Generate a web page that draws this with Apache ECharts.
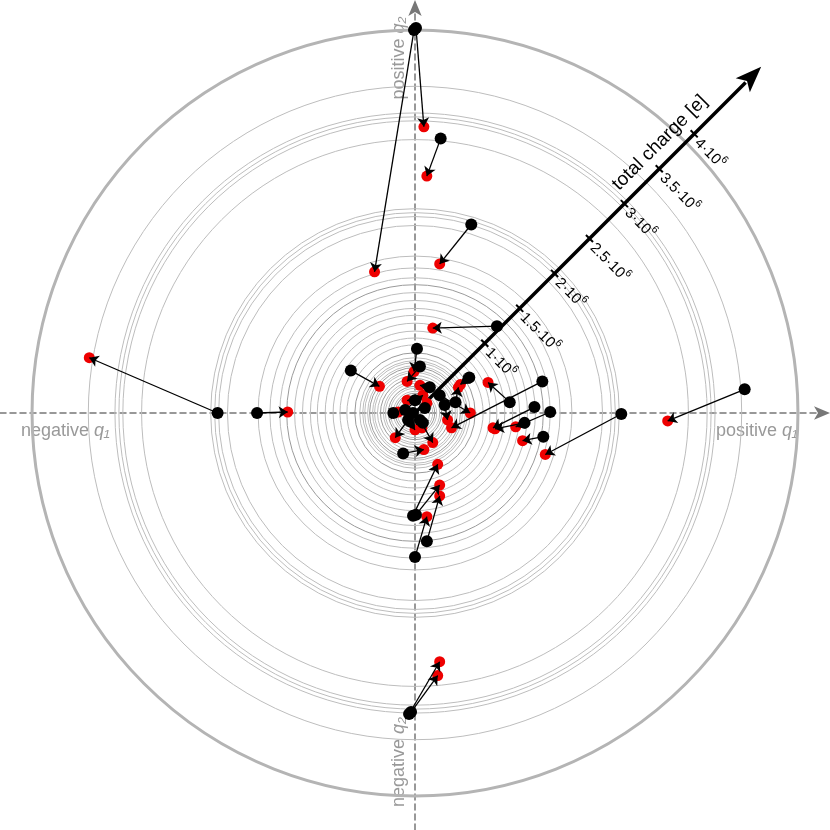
<!DOCTYPE html>
<html>
<head>
<meta charset="utf-8">
<script src="https://cdn.jsdelivr.net/npm/echarts@6/dist/echarts.min.js"></script>
<style>
  html, body { margin: 0; padding: 0; background: #fff; }
  #main { width: 830px; height: 830px; }
</style>
</head>
<body>
<div id="main"></div>
<script>
// charges in units of 1e6 e
const startQ1 = [0.01, -0.01, 0.26, 0.57, 0.83, -2.00, -1.60, 3.34, 2.09, -0.06, -0.04, 0, 0.12, -0.02, 0.01, -0.12, -0.65, 0.02, 0.96, 1.29, 1.21, 1.37, 1.11, 1.30, 0.55, 0.41, -0.02, 0.05, 0.08, 0.15, 0, 0.05, 0.25, 0.30, -0.10, 0.10, -0.22, -0.07];
const startQ2 = [3.90, 3.88, 2.78, 1.91, 0.88, 0, 0, 0.24, -0.01, -3.05, -3.03, -1.46, -1.30, -1.04, -1.03, -0.41, 0.43, 0.65, 0.11, 0.32, 0.06, 0.01, -0.10, -0.24, 0.36, 0.11, 0, -0.07, -0.10, 0.26, 0.13, 0.47, 0.18, 0.08, 0.03, 0.05, 0, -0.07];
const endQ1 = [0.09, -0.41, 0.12, 0.25, 0.18, -3.30, -1.29, 2.56, 1.32, 0.25, 0.23, 0.12, 0.25, 0.23, 0.25, 0.09, -0.36, -0.01, 0.74, 0.37, 0.79, 1.02, 0.81, 1.09, 0.46, 0.44, -0.20, 0.18, 0.07, 0.05, -0.08, -0.08, 0.56, 0.33, 0.08, 0.12, -0.17, 0];
const endQ2 = [2.90, 1.43, 2.40, 1.51, 0.86, 0.56, 0.01, -0.08, -0.42, -2.52, -2.66, -1.05, -0.84, -0.52, -0.73, -0.37, 0.27, 0.42, 0.31, -0.15, -0.15, -0.14, -0.16, -0.28, 0.29, 0.26, -0.25, -0.30, -0.15, 0.28, 0.13, 0.32, 0, -0.07, 0.18, 0.10, 0.01, -0.17];

// total charge rings
const ringRadii = [3.31, 3.04, 3.00, 2.96, 2.77, 2.07, 2.03, 1.99, 1.90, 1.59, 1.47, 1.37, 1.30, 1.22, 1.14, 1.06, 0.99, 0.91, 0.83, 0.76, 0.69, 0.61, 0.56, 0.53, 0.51, 0.48, 0.46, 0.43, 0.41, 0.38, 0.35, 0.32, 0.30, 0.27, 0.25, 0.22, 0.20, 0.18, 0.15];
const darkRings = [1.30, 0.61, 0.46, 0.35, 0.27, 0.20];
const outerRing = 3.88;

const chargeTicks = [1, 1.5, 2, 2.5, 3, 3.5, 4];
const chargeTickLabels = ['1·10', '1.5·10', '2·10', '2.5·10', '3·10', '3.5·10', '4·10'];
const chargeAxisEnd = 4.96;

const S = 98.7; // px per 1e6 e
var myChart = echarts.init(document.getElementById('main'));

const startPts = startQ1.map((v, i) => [v, startQ2[i]]);
const endPts = endQ1.map((v, i) => [v, endQ2[i]]);
const arrows = startPts.map((p, i) => ({ coords: [p, endPts[i]] }));

const ringData = ringRadii.map(r => [r, darkRings.indexOf(r) >= 0 ? 1 : 0]).concat([[outerRing, 2]]);

const FONT = 'Liberation Sans, Arial, sans-serif';
const D = Math.SQRT1_2;

function ringItem(params, api) {
  const c = api.coord([0, 0]);
  const r = api.size([api.value(0), 0])[0];
  const kind = api.value(1);
  return {
    type: 'circle',
    shape: { cx: c[0], cy: c[1], r: r },
    style: {
      fill: 'none',
      stroke: kind === 2 ? '#b4b4b4' : (kind === 1 ? '#9a9a9a' : '#bdbdbd'),
      lineWidth: kind === 2 ? 3 : 1
    }
  };
}

function chargeAxisItem(params, api) {
  const o = api.coord([0, 0]);
  const tip = api.coord([chargeAxisEnd * D, chargeAxisEnd * D]);
  const ux = (tip[0] - o[0]), uy = (tip[1] - o[1]);
  const len = Math.sqrt(ux * ux + uy * uy);
  const dx = ux / len, dy = uy / len;     // along axis
  const px = -dy, py = dx;                 // perpendicular (down-right)
  const headL = 26, headW = 10;
  const bx = tip[0] - dx * headL, by = tip[1] - dy * headL;
  const children = [
    { type: 'line', shape: { x1: o[0], y1: o[1], x2: bx + dx * 4, y2: by + dy * 4 }, style: { stroke: '#000', lineWidth: 3.5 } },
    { type: 'polygon', shape: { points: [tip, [bx + px * headW, by + py * headW], [bx + dx * 6, by + dy * 6], [bx - px * headW, by - py * headW]] }, style: { fill: '#000' } }
  ];
  chargeTicks.forEach((v, i) => {
    const p = api.coord([v * D, v * D]);
    children.push({ type: 'line', shape: { x1: p[0] - px * 5, y1: p[1] - py * 5, x2: p[0] + px * 5, y2: p[1] + py * 5 }, style: { stroke: '#000', lineWidth: 2 } });
    children.push({
      type: 'text',
      x: p[0] + px * 7 - dx * 1, y: p[1] + py * 7 - dy * 1,
      rotation: -Math.PI / 4,
      style: {
        text: '{a|' + chargeTickLabels[i] + '}{s|6}',
        align: 'left', verticalAlign: 'middle',
        rich: {
          a: { fontSize: 15, fontFamily: FONT, color: '#222', lineHeight: 19, verticalAlign: 'bottom' },
          s: { fontSize: 10.5, fontFamily: FONT, color: '#222', lineHeight: 19, verticalAlign: 'top' }
        }
      }
    });
  });
  const tp = api.coord([3.69 * D, 3.69 * D]);
  children.push({
    type: 'text',
    x: tp[0] - px * 18, y: tp[1] - py * 18,
    rotation: Math.PI / 4,
    style: { text: 'total charge [e]', fill: '#000', font: '19px ' + FONT, align: 'center', verticalAlign: 'middle' }
  });
  return { type: 'group', children: children };
}

const axisName = {
  fill: '#999',
  font: '18px ' + FONT,
  rich: { i: { fontStyle: 'italic', fontSize: 18, fontFamily: FONT, color: '#999' } }
};

const option = {
  animation: false,
  grid: { left: 0, right: 0, top: 0, bottom: 0 },
  xAxis: {
    type: 'value', min: -415 / S, max: 415 / S,
    splitLine: { show: false }, axisTick: { show: false }, axisLabel: { show: false },
    axisLine: { onZero: true, symbol: ['none', 'arrow'], symbolSize: [10, 16], lineStyle: { color: '#777', type: [6, 4], width: 1.5 } }
  },
  yAxis: {
    type: 'value', min: -(830 - 413) / S, max: 413 / S,
    splitLine: { show: false }, axisTick: { show: false }, axisLabel: { show: false },
    axisLine: { onZero: true, symbol: ['none', 'arrow'], symbolSize: [10, 16], lineStyle: { color: '#777', type: [6, 4], width: 1.5 } }
  },
  graphic: [
    { type: 'text', left: 21, top: 422, style: Object.assign({}, axisName, { text: 'negative {i|q₁}' }) },
    { type: 'text', left: 716, top: 422, style: Object.assign({}, axisName, { text: 'positive {i|q₁}' }) },
    { type: 'text', x: 399, y: 58, rotation: Math.PI / 2, style: Object.assign({}, axisName, { text: 'positive {i|q₂}', align: 'center', verticalAlign: 'middle' }) },
    { type: 'text', x: 399, y: 762, rotation: Math.PI / 2, style: Object.assign({}, axisName, { text: 'negative {i|q₂}', align: 'center', verticalAlign: 'middle' }) }
  ],
  series: [
    { type: 'custom', name: 'rings', coordinateSystem: 'cartesian2d', data: ringData, renderItem: ringItem, silent: true, z: 1, clip: false },
    { type: 'custom', name: 'total charge', coordinateSystem: 'cartesian2d', data: [[0, 0]], renderItem: chargeAxisItem, silent: true, z: 3, clip: false },
    { type: 'scatter', name: 'final', data: endPts, symbolSize: 11, itemStyle: { color: '#ee0000', opacity: 1 }, z: 4 },
    { type: 'lines', name: 'change', coordinateSystem: 'cartesian2d', data: arrows, symbol: ['none', 'arrow'], symbolSize: 9, lineStyle: { color: '#000', width: 1.3, opacity: 1, curveness: 0 }, z: 5 },
    { type: 'scatter', name: 'initial', data: startPts, symbolSize: 12, itemStyle: { color: '#000', opacity: 1 }, z: 6 }
  ]
};

myChart.setOption(option);
window.addEventListener('resize', function () {
  myChart.resize();
});
</script>
</body>
</html>
